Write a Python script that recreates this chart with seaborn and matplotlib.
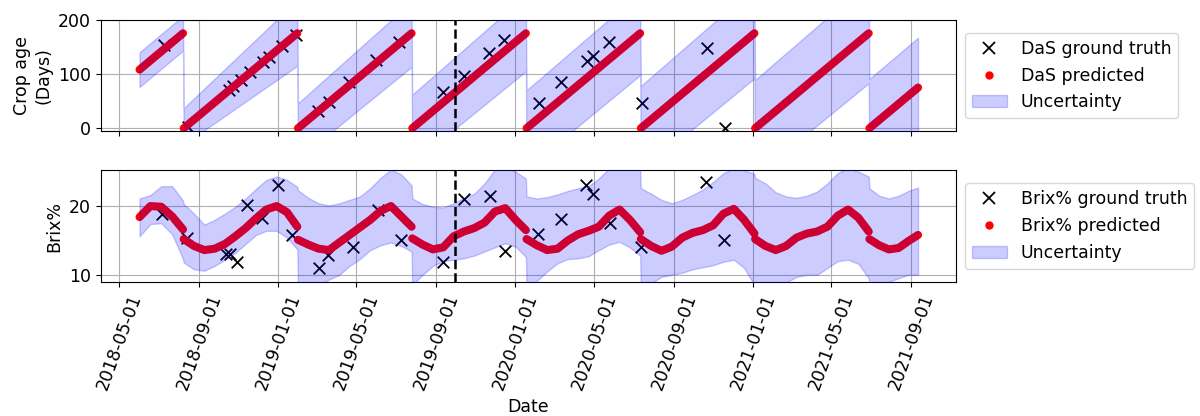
# crop age / brix prediction chart
import pandas as pd
import numpy as np
import matplotlib
matplotlib.use("Agg")
import matplotlib.pyplot as plt
import matplotlib.dates as mdates
import seaborn as sns
from matplotlib.lines import Line2D
from matplotlib.patches import Patch

# ---------- Data ----------
season_start = ["2018-06-01", "2018-08-08", "2019-01-31", "2019-07-26",
                "2020-01-18", "2020-07-12", "2021-01-04", "2021-06-29"]
season_end = ["2018-08-07", "2019-01-30", "2019-07-25", "2020-01-17",
              "2020-07-11", "2021-01-03", "2021-06-28", "2021-09-12"]

# DaS prediction at first / last day of each season
das_pred_first = [108, 0, 0, 0, 0, 0, 0, 0]
das_pred_last = [175, 175, 175, 175, 175, 175, 175, 75]
das_upper_first = [140, 37, 46, 62, 70, 78, 89, 91]
das_upper_last = [207, 236, 233, 245, 250, 260, 270, 167]
das_lower_first = [76, -30, -57, -65, -75, -80, -88, -92]
das_lower_last = [143, 115, 113, 105, 98, 92, 83, -17]

das_gt_dates = ["2018-07-09", "2018-08-15", "2018-10-17", "2018-10-23", "2018-11-04",
                "2018-11-18", "2018-12-08", "2018-12-18", "2019-01-06", "2019-01-28",
                "2019-03-03", "2019-03-20", "2019-04-20", "2019-05-31", "2019-07-05",
                "2019-09-12", "2019-10-13", "2019-11-21", "2019-12-15",
                "2020-02-06", "2020-03-11", "2020-04-20", "2020-04-29", "2020-05-24",
                "2020-07-14", "2020-10-22", "2020-11-19"]
das_gt = [153, 2, 71, 77, 89, 103, 122, 132, 151, 172,
          32, 48, 86, 126, 159,
          66, 97, 138, 162,
          47, 85, 123, 134, 159,
          46, 148, 1]

# Brix% prediction / band, evenly spaced samples inside each season
brix_pred = [
    [18.4, 20.0, 19.9, 18.5, 16.6],
    [15.2, 14.2, 13.6, 13.8, 14.5, 15.6, 16.8, 18.2, 19.5, 20.0, 19.1, 17.0],
    [15.1, 14.4, 13.8, 13.6, 14.7, 15.8, 16.9, 18.0, 19.3, 20.0, 18.5, 17.0],
    [15.3, 14.4, 13.7, 14.0, 15.6, 16.3, 16.8, 17.6, 19.2, 19.7, 18.0, 16.5],
    [15.2, 14.3, 13.6, 13.8, 15.0, 15.9, 16.4, 17.0, 18.6, 19.5, 18.0, 16.2],
    [15.2, 14.2, 13.5, 14.1, 15.4, 16.1, 16.5, 17.2, 18.9, 19.6, 18.0, 16.0],
    [15.2, 14.2, 13.6, 14.2, 15.4, 16.0, 16.3, 17.0, 18.6, 19.5, 18.3, 16.3],
    [15.2, 14.3, 13.7, 13.9, 14.9, 15.8],
]
brix_upper = [
    [21.1, 21.6, 22.9, 22.9, 20.8],
    [20.3, 18.9, 17.3, 18.0, 18.9, 19.9, 21.1, 22.5, 23.8, 24.3, 23.8, 22.8],
    [22.3, 21.2, 20.4, 20.1, 20.4, 20.9, 21.4, 22.6, 24.1, 25.3, 24.6, 23.0],
    [21.1, 20.3, 19.9, 19.8, 20.4, 21.2, 21.8, 23.3, 25.3, 25.6, 25.0, 24.0],
    [21.4, 21.1, 21.3, 21.7, 22.2, 22.6, 22.9, 24.0, 25.5, 26.0, 26.0, 25.5],
    [22.6, 21.8, 20.9, 20.4, 20.9, 21.6, 22.4, 23.5, 24.8, 25.5, 25.2, 24.7],
    [24.1, 23.3, 22.0, 21.4, 21.2, 21.5, 22.1, 23.3, 24.8, 25.5, 25.0, 24.3],
    [22.6, 21.5, 21.1, 21.5, 22.2, 22.7],
]
brix_lower = [
    [15.6, 17.4, 17.5, 15.9, 12.3],
    [11.8, 10.8, 10.6, 11.3, 12.2, 13.2, 14.5, 15.8, 16.4, 16.4, 15.4, 13.7],
    [8.0, 8.3, 8.7, 9.3, 10.0, 11.3, 12.3, 13.6, 14.3, 14.7, 14.2, 13.4],
    [8.5, 10.0, 11.3, 12.0, 12.2, 12.4, 12.8, 13.4, 14.0, 14.6, 14.1, 12.6],
    [8.0, 9.1, 10.5, 11.7, 12.3, 12.4, 12.7, 13.6, 14.4, 14.8, 14.0, 12.8],
    [8.0, 8.8, 9.7, 10.0, 10.3, 10.8, 11.1, 11.4, 11.9, 12.2, 11.0, 8.5],
    [7.5, 7.8, 8.3, 8.9, 9.7, 10.0, 10.0, 11.0, 12.0, 12.2, 11.6, 9.5],
    [8.0, 8.5, 9.0, 9.5, 10.0, 10.0],
]

brix_gt_dates = ["2018-07-05", "2018-08-13", "2018-10-12", "2018-10-18", "2018-10-29",
                 "2018-11-13", "2018-12-07", "2018-12-31", "2019-01-22",
                 "2019-03-05", "2019-03-18", "2019-04-26", "2019-06-03", "2019-07-08",
                 "2019-09-12", "2019-10-13", "2019-11-22", "2019-12-16",
                 "2020-02-05", "2020-03-11", "2020-04-19", "2020-04-29", "2020-05-25",
                 "2020-07-12", "2020-10-21", "2020-11-17"]
brix_gt = [18.9, 15.4, 13.1, 13.0, 11.8, 20.1, 18.2, 23.1, 15.8,
           11.0, 12.9, 14.0, 19.4, 15.1,
           11.9, 21.1, 21.4, 13.5,
           16.0, 18.1, 23.1, 21.7, 17.5,
           14.1, 23.5, 15.1]

split_date = "2019-09-30"

# ---------- Build frames ----------
das_rows, das_band = [], []
brix_rows, brix_band = [], []
for i, (s, e) in enumerate(zip(season_start, season_end)):
    d2 = pd.to_datetime([s, e])
    for d, v, lo, up in zip(d2, [das_pred_first[i], das_pred_last[i]],
                            [das_lower_first[i], das_lower_last[i]],
                            [das_upper_first[i], das_upper_last[i]]):
        das_rows.append((i, d, v))
        das_band.append((d, lo, up))
    dn = pd.date_range(s, e, periods=len(brix_pred[i]))
    for d, v, lo, up in zip(dn, brix_pred[i], brix_lower[i], brix_upper[i]):
        brix_rows.append((i, d, v))
        brix_band.append((d, lo, up))

das_df = pd.DataFrame(das_rows, columns=["season", "date", "value"])
das_bd = pd.DataFrame(das_band, columns=["date", "lower", "upper"])
brix_df = pd.DataFrame(brix_rows, columns=["season", "date", "value"])
brix_bd = pd.DataFrame(brix_band, columns=["date", "lower", "upper"])

# ---------- Plot ----------
plt.style.use("default")
plt.rcParams["font.family"] = ["DejaVu Sans"]
FS = 12.5

fig = plt.figure(figsize=(12, 4.16), dpi=100)
ax1 = fig.add_axes([0.0838, 0.6839, 0.7132, 0.2687])
ax2 = fig.add_axes([0.0838, 0.3228, 0.7132, 0.2678], sharex=ax1)


def draw_panel(ax, pred_df, band_df, gt_dates, gt_vals, name):
    sns.scatterplot(x=pd.to_datetime(gt_dates), y=gt_vals, marker="x", color="black",
                    s=70, linewidth=1.3, ax=ax, zorder=2)
    sns.lineplot(data=pred_df, x="date", y="value", units="season", estimator=None,
                 color="red", lw=5.8, solid_capstyle="round", ax=ax, zorder=3)
    ax.fill_between(band_df["date"], band_df["lower"], band_df["upper"],
                    color="blue", alpha=0.2, lw=1, zorder=4)
    ax.axvline(pd.Timestamp(split_date), color="black", ls="--", lw=1.8, zorder=5)
    ax.grid(True, color="#b0b0b0", lw=0.8)
    ax.set_axisbelow(True)
    ax.tick_params(axis="both", labelsize=FS)
    handles = [Line2D([], [], marker="x", ls="none", color="black", markersize=8, mew=1.3),
               Line2D([], [], marker="o", ls="none", color="red", markersize=5),
               Patch(facecolor="blue", edgecolor="blue", alpha=0.2)]
    ax.legend(handles, [f"{name} ground truth", f"{name} predicted", "Uncertainty"],
              loc="center left", bbox_to_anchor=(1.0, 0.5), fontsize=FS)


draw_panel(ax1, das_df, das_bd, das_gt_dates, das_gt, "DaS")
draw_panel(ax2, brix_df, brix_bd, brix_gt_dates, brix_gt, "Brix%")

ax1.set_ylim(-6, 200)
ax1.set_yticks([0, 100, 200])
ax1.set_ylabel("Crop age\n(Days)", fontsize=FS)
ax1.set_xlabel("")
ax1.tick_params(axis="x", labelbottom=False)

ax2.set_ylim(9, 25.2)
ax2.set_yticks([10, 20])
ax2.set_ylabel("Brix%", fontsize=FS)
ax2.set_xlim(pd.Timestamp("2018-04-02"), pd.Timestamp("2021-11-10"))
ax2.xaxis.set_major_locator(mdates.MonthLocator(bymonth=[1, 5, 9]))
ax2.xaxis.set_major_formatter(mdates.DateFormatter("%Y-%m-%d"))
ax2.tick_params(axis="x", labelrotation=70)
ax2.set_xlabel("Date", fontsize=FS)

fig.savefig("out.png", dpi=100)
